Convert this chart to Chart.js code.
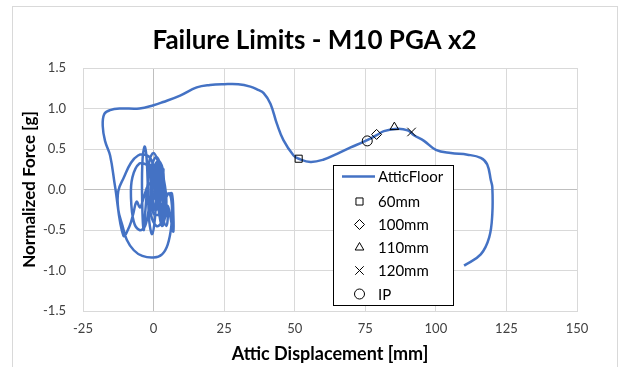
<!DOCTYPE html>
<html>
<head>
<meta charset="utf-8">
<script src="https://cdn.jsdelivr.net/npm/chart.js@4"></script>
<style>
  html, body { margin: 0; padding: 0; background: #fff; }
  #wrap { width: 622px; height: 367px; }
</style>
</head>
<body>
<div id="wrap"><canvas id="failure-chart"></canvas></div>
<script>
// hysteresis trace (displacement mm, force g)
const atticX = [0, 0.5, 1, 1.5, 2, 2.5, 3, 3.5, 3, 2.5, 2, 1.5, 1, 0.5,
  1, 2, 1.5, 0.5, 1, 2.5, 3, 2, 0.5, -0.5, 0.5, 2, 3.5, 3.5, 2, 0, -1, -0.5, 1, 2.5, 4, 4.5, 3, 1, -1, -2, -1.5, 0, 1.5, 3, 4, 5, 4.5, 3, 2, 2.5, 3.5, 4.5, 5.5, 6.5, 7, 7,
  6, 5, 4, 3, 2, 1, 0, -1, -2, -3, -3.5, -4, -4, -3.2, -2.5, -2, -1.5, -0.5, 0.5, 1, 0.5, -1, -3, -5.5, -8, -10.5, -12.5, -12.5, -11, -9.5, -7, -4, 0, 3, 5, 6.3, 6.5, 5.5, 4, 3, 2,
  0.5, -2, -5, -7.5, -8, -7, -5, -3, -1.5, 0, 1, 2.5, 1.5, 0.5, -0.5, -2, -3.5, -4.8, -6, -7.2, -8.5, -10.7,
  -13.7, -15.4, -17.2, -18, -17.5, -15.4, -12, -5, 0, 3.4, 9.4, 15.3, 20, 25, 30, 34.3, 37, 39, 41.4, 43.7, 46, 49.6, 51.4, 55.6, 60.3, 65, 69.8, 74.5, 79, 81.6, 86.3, 90, 92.2, 95.8, 100,
  105.3, 111.2, 115.9, 118.2, 119.5, 120, 120, 118.9, 115.9, 110];
const atticY = [0, 0.3, -0.1, 0.3, -0.1, 0.3, -0.05, 0.25, -0.1, 0.28, -0.05, 0.25, -0.1, 0.25,
  0.15, 0.05, -0.15, -0.1, 0.2, 0.25, 0, -0.2, -0.25, 0.05, 0.3, 0.35, 0.2, -0.1, -0.3, -0.3, 0, 0.3, 0.4, 0.3, 0.05, -0.2, -0.4, -0.45, -0.3, 0.05, 0.35, 0.45, 0.35, 0.15, -0.1, -0.3, -0.45, -0.3, -0.05, 0.2, 0.1, -0.05, -0.05, -0.05, -0.3, -0.52,
  -0.35, -0.2, -0.35, -0.45, -0.3, 0, 0.25, 0.3, 0.1, -0.3, -0.5, -0.2, 0.3, 0.53, 0.4, 0, -0.4, -0.55, -0.35, 0, 0.2, 0.38, 0.43, 0.42, 0.33, 0.15, -0.02, -0.25, -0.45, -0.62, -0.75, -0.82, -0.84, -0.8, -0.68, -0.45, -0.2, -0.05, -0.15, -0.4, -0.2,
  0.25, 0.3, 0.32, 0.15, -0.1, -0.4, -0.5, -0.45, -0.2, 0.1, 0.3, 0.2, -0.1, 0.15, 0.1, 0.05, -0.1, -0.22, -0.15, -0.3, -0.45, -0.57,
  0.05, 0.42, 0.6, 0.78, 0.93, 0.98, 1.0, 1.0, 1.04, 1.08, 1.16, 1.26, 1.29, 1.3, 1.3, 1.27, 1.23, 1.19, 1.06, 0.81, 0.61, 0.42, 0.38, 0.34, 0.37, 0.44, 0.52, 0.59, 0.67, 0.72, 0.75, 0.73, 0.67, 0.6, 0.49,
  0.45, 0.43, 0.39, 0.31, 0.11, 0.03, -0.3, -0.59, -0.8, -0.94];

// failure limit markers
const markerNames = ['60mm', '100mm', '110mm', '120mm', 'IP'];
const markerX = [51.4, 79, 85.3, 91.4, 75.7];
const markerY = [0.38, 0.68, 0.77, 0.71, 0.6];
const markerStyles = ['rect', 'rectRot', 'triangle', 'crossRot', 'circle'];

const xTicks = [-25, 0, 25, 50, 75, 100, 125, 150];
const yTicks = [-1.5, -1.0, -0.5, 0.0, 0.5, 1.0, 1.5];

const chartTitle = 'Failure Limits - M10 PGA x2';

Chart.defaults.font.family = 'Lato, "Open Sans", sans-serif';

const lineData = atticX.map((x, i) => ({ x: x, y: atticY[i] }));

const datasets = markerNames.map((name, i) => ({
    label: name,
    data: [{ x: markerX[i], y: markerY[i] }],
    pointStyle: markerStyles[i],
    pointRadius: markerStyles[i] === 'crossRot' ? 6 : 5,
    pointBorderColor: '#000',
    pointBackgroundColor: 'rgba(0,0,0,0)',
    pointBorderWidth: 1,
    showLine: false,
    order: 0
}));
datasets.unshift({
    label: 'AtticFloor',
    data: lineData,
    showLine: true,
    borderColor: '#4472C4',
    borderWidth: 2.5,
    pointRadius: 0,
    tension: 0.4,
    order: 1
});

const framePlugin = {
    id: 'frame',
    beforeDraw(chart) {
        const c = chart.ctx;
        c.save();
        c.fillStyle = '#fff';
        c.fillRect(0, 0, chart.width, chart.height);
        c.strokeStyle = '#D9D9D9';
        c.lineWidth = 1;
        c.strokeRect(12.5, 6.5, 605, 420);
        // chart title, centred on the chart frame
        c.fillStyle = '#000';
        c.font = 'bold 26px Lato, "Open Sans", sans-serif';
        c.textAlign = 'center';
        c.textBaseline = 'alphabetic';
        c.fillText(chartTitle, 314.5, 48.5);
        c.restore();
    }
};

// legend box inside the plot, like the excel one
const boxLegend = {
    id: 'boxLegend',
    afterDraw(chart) {
        const c = chart.ctx;
        const left = 333.5, top = 165.5, w = 120, h = 140;
        c.save();
        c.fillStyle = '#fff';
        c.fillRect(left, top, w, h);
        c.strokeStyle = '#000';
        c.lineWidth = 1;
        c.strokeRect(left, top, w, h);
        c.font = '15px Lato, "Open Sans", sans-serif';
        c.textBaseline = 'middle';
        const rowY = [176.5, 201.5, 224.5, 247.5, 270.5, 294];
        chart.data.datasets.forEach((ds, i) => {
            const y = rowY[i];
            if (ds.showLine) {
                c.strokeStyle = ds.borderColor;
                c.lineWidth = ds.borderWidth;
                c.beginPath();
                c.moveTo(342, y);
                c.lineTo(375, y);
                c.stroke();
            } else {
                c.fillStyle = '#fff';
                c.strokeStyle = '#000';
                c.lineWidth = 1;
                Chart.helpers.drawPoint(c, {
                    pointStyle: ds.pointStyle,
                    radius: ds.pointRadius,
                    borderWidth: 1,
                    rotation: 0
                }, 359.5, y);
            }
            c.fillStyle = '#000';
            c.fillText(ds.label, 378, y + 1);
        });
        c.restore();
    }
};

const gridColor = ctx => (ctx.tick && ctx.tick.value === 0 ? '#BFBFBF' : '#D9D9D9');

new Chart(document.getElementById('failure-chart'), {
    type: 'scatter',
    data: { datasets: datasets },
    options: {
        responsive: true,
        maintainAspectRatio: false,
        animation: false,
        layout: { padding: { left: 0, right: 45, top: 68, bottom: 0 } },
        plugins: {
            legend: { display: false },
            tooltip: { enabled: false },
            title: { display: false }
        },
        scales: {
            x: {
                type: 'linear',
                min: -25,
                max: 150,
                afterBuildTicks: s => { s.ticks = xTicks.map(v => ({ value: v })); },
                afterFit: s => { s.height = 56; },
                ticks: { color: '#404040', font: { size: 13 }, padding: 10 },
                grid: { color: gridColor, drawTicks: false },
                border: { color: '#D9D9D9' },
                title: {
                    display: true,
                    text: 'Attic Displacement [mm]',
                    color: '#000',
                    font: { size: 18, weight: 'bold' },
                    padding: { top: 0, bottom: 2 }
                }
            },
            y: {
                type: 'linear',
                min: -1.5,
                max: 1.5,
                afterBuildTicks: s => { s.ticks = yTicks.map(v => ({ value: v })); },
                afterFit: s => { s.width = 83; },
                ticks: { color: '#404040', font: { size: 13 }, padding: 17, callback: v => v.toFixed(1) },
                grid: { color: gridColor, drawTicks: false },
                border: { color: '#D9D9D9' },
                title: {
                    display: true,
                    text: 'Normalized Force [g]',
                    color: '#000',
                    font: { size: 17, weight: 'bold' },
                    padding: { top: 19, bottom: 0 }
                }
            }
        }
    },
    plugins: [framePlugin, boxLegend]
});
</script>
</body>
</html>
